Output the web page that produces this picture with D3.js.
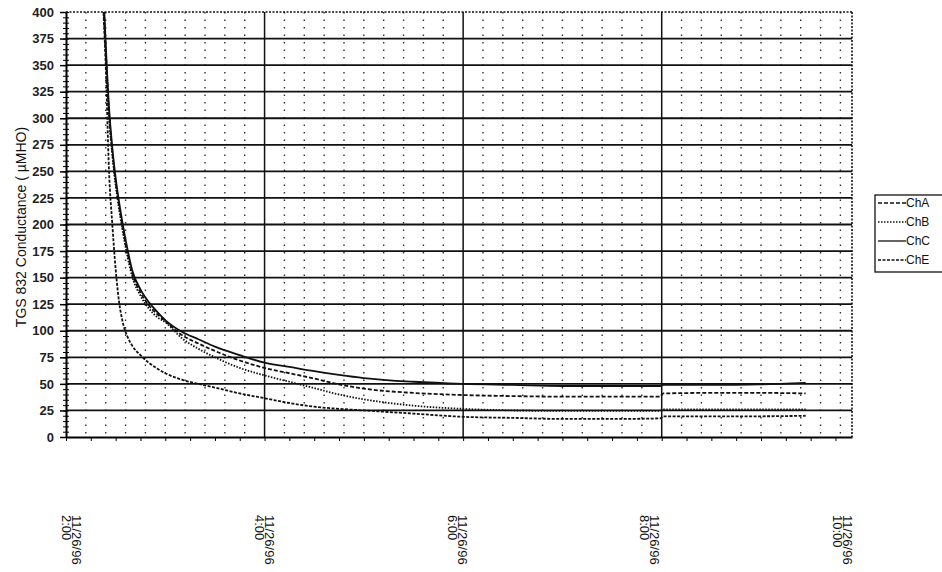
<!DOCTYPE html>
<html>
<head>
<meta charset="utf-8">
<script src="https://cdnjs.cloudflare.com/ajax/libs/d3/7.8.5/d3.min.js"></script>
<style>
  body { margin: 0; background: #fff; }
  svg { display: block; font-family: "Liberation Sans", Arial, sans-serif; }
</style>
</head>
<body>
<svg id="chart"></svg>
<script>
// sample times (11/26/96) and readings of the four channels, in uMHO
const times = ["2:22", "2:24", "2:26", "2:28", "2:30", "2:32", "2:34", "2:37", "2:40", "2:45",
    "2:50", "2:55", "3:00", "3:10", "3:20", "3:30", "3:45", "4:00", "4:15", "4:30", "4:45",
    "5:00", "5:30", "6:00", "6:30", "7:00", "7:30", "7:59", "8:01", "8:30", "9:00", "9:27"];

const chA = [435, 365, 306, 268, 240, 218, 199, 174, 154, 136, 124, 116, 109, 96, 88, 81, 72,
    65, 60, 55, 49.5, 45.5, 41.5, 39.5, 38.5, 38, 38, 38, 41, 41.5, 41.5, 41];
const chB = [430, 360, 302, 265, 237, 215, 196, 171, 151, 133, 121, 113, 108, 93, 83, 75, 65,
    58, 52, 46, 40, 35.5, 29.5, 26.5, 25, 24.5, 24.5, 24.5, 26, 26, 26, 26];
const chC = [440, 370, 310, 272, 244, 222, 203, 178, 157, 139, 127, 118, 110, 99, 92, 85, 77,
    70, 66, 62, 58.5, 55.5, 52, 50, 49, 48, 48, 48, 49, 49, 49.5, 51];
const chE = [420, 350, 250, 200, 158, 128, 110, 95, 86, 77, 70, 64.5, 60, 54, 50, 46.5, 41,
    36.5, 32, 28.5, 26.5, 25, 22, 19, 18, 17, 17, 17.5, 19.5, 19.5, 19.5, 20];

const seriesNames = ["ChA", "ChB", "ChC", "ChE"];
const yTicks = d3.range(0, 401, 25);
const xLabels = ["2:00", "4:00", "6:00", "8:00", "10:00"];
const dateLabel = "11/26/96";

const margin = { top: 12, right: 90, bottom: 135, left: 66 },
    width = 852 - margin.left,
    height = 437 - margin.top;

const parseTime = d3.timeParse("%H:%M");

const svg = d3.select("#chart")
    .attr("width", 942)
    .attr("height", 572);

const g = svg.append("g")
    .attr("transform", `translate(${margin.left},${margin.top})`);

// X scale (time of day)
const x = d3.scaleTime()
    .domain([parseTime("2:00"), parseTime("9:55")])
    .range([0, width]);

// Y scale
const y = d3.scaleLinear()
    .domain([0, 400])
    .range([height, 0]);

// dotted minor verticals
g.append("g")
    .selectAll("line")
    .data(x.ticks(d3.timeMinute.every(12)).filter(d => d.getMinutes() !== 0 || d.getHours() % 2 !== 0))
    .join("line")
    .attr("x1", d => x(d))
    .attr("x2", d => x(d))
    .attr("y1", 0)
    .attr("y2", height)
    .attr("stroke", "#333")
    .attr("stroke-width", 1.4)
    .attr("stroke-dasharray", "1.5,6");

// solid horizontal gridlines
g.append("g")
    .selectAll("line")
    .data(yTicks.filter(d => d > 0 && d < 400))
    .join("line")
    .attr("x1", 0)
    .attr("x2", width)
    .attr("y1", d => y(d))
    .attr("y2", d => y(d))
    .attr("stroke", "#111")
    .attr("stroke-width", 1.8);

// solid verticals every two hours
g.append("g")
    .selectAll("line")
    .data(["4:00", "6:00", "8:00"].map(parseTime))
    .join("line")
    .attr("x1", d => x(d))
    .attr("x2", d => x(d))
    .attr("y1", 0)
    .attr("y2", height)
    .attr("stroke", "#111")
    .attr("stroke-width", 1.5);

// dotted frame top and right
g.append("line")
    .attr("x1", 0).attr("x2", width)
    .attr("y1", 0).attr("y2", 0)
    .attr("stroke", "#111")
    .attr("stroke-width", 1.6)
    .attr("stroke-dasharray", "2,1.5");
g.append("line")
    .attr("x1", width).attr("x2", width)
    .attr("y1", 0).attr("y2", height)
    .attr("stroke", "#111")
    .attr("stroke-width", 1.6)
    .attr("stroke-dasharray", "2,1.5");

// the lines
svg.append("defs").append("clipPath")
    .attr("id", "plot-clip")
    .append("rect")
    .attr("width", width)
    .attr("height", height);

const series = [chA, chB, chC, chE];
const dashes = ["4,2", "1.5,1.5", null, "3,1.5"];

const line = d3.line()
    .x(d => x(d.t))
    .y(d => y(d.v))
    .curve(d3.curveMonotoneX);

series.forEach((vals, i) => {
    const pts = times.map((t, j) => ({ t: parseTime(t), v: vals[j] }));
    g.append("path")
        .datum(pts)
        .attr("clip-path", "url(#plot-clip)")
        .attr("fill", "none")
        .attr("stroke", "#111")
        .attr("stroke-width", 1.8)
        .attr("stroke-dasharray", dashes[i])
        .attr("d", line);
});

// Y axis with crossing minor ticks
g.append("g")
    .call(d3.axisLeft(y).tickValues(d3.range(0, 401, 5)).tickSize(3).tickFormat(""))
    .call(a => a.select(".domain").remove());
g.append("g")
    .call(d3.axisRight(y).tickValues(d3.range(0, 401, 5)).tickSize(3).tickFormat(""))
    .call(a => a.select(".domain").remove());
g.append("g")
    .call(d3.axisLeft(y).tickValues(yTicks).tickSize(6).tickPadding(6).tickSizeOuter(0))
    .call(a => a.select(".domain").attr("stroke-width", 2))
    .call(a => a.selectAll(".tick line").attr("stroke-width", 1.5))
    .call(a => a.selectAll("text")
        .attr("font-size", "13px")
        .attr("font-weight", "bold")
        .attr("font-family", "Liberation Sans, Arial, sans-serif")
        .attr("fill", "#222"));

// X axis: quarter-hour ticks, no labels
g.append("g")
    .attr("transform", `translate(0,${height})`)
    .call(d3.axisBottom(x).ticks(d3.timeMinute.every(15)).tickSize(4).tickSizeOuter(0).tickFormat(""))
    .call(a => a.select(".domain").attr("stroke-width", 2));

// rotated date/time labels
const xl = d3.scalePoint()
    .domain(xLabels)
    .range([72, 843]);

xLabels.forEach(lab => {
    const t = svg.append("text")
        .attr("transform", `translate(${xl(lab)},515) rotate(90)`)
        .attr("font-size", "13px")
        .attr("fill", "#111");
    t.append("tspan").attr("x", 0).attr("y", 0).text(dateLabel);
    t.append("tspan").attr("x", 0).attr("y", 10).text(lab);
});

// Y axis title
svg.append("text")
    .attr("transform", "translate(26,227) rotate(-90)")
    .attr("text-anchor", "middle")
    .attr("font-size", "14px")
    .attr("fill", "#111")
    .text("TGS 832 Conductance ( \u00b5MHO)");

// legend
const legend = svg.append("g")
    .attr("transform", "translate(875,195)");
legend.append("rect")
    .attr("width", 80)
    .attr("height", 77)
    .attr("fill", "#fff")
    .attr("stroke", "#111")
    .attr("stroke-width", 1.3);
seriesNames.forEach((name, i) => {
    const ly = 8 + i * 19;
    legend.append("line")
        .attr("x1", 3).attr("x2", 31)
        .attr("y1", ly).attr("y2", ly)
        .attr("stroke", "#111")
        .attr("stroke-width", 1.3)
        .attr("stroke-dasharray", dashes[i]);
    legend.append("text")
        .attr("x", 31)
        .attr("y", ly)
        .attr("dy", "0.35em")
        .attr("font-size", "12px")
        .attr("fill", "#111")
        .text(name);
});
</script>
</body>
</html>
